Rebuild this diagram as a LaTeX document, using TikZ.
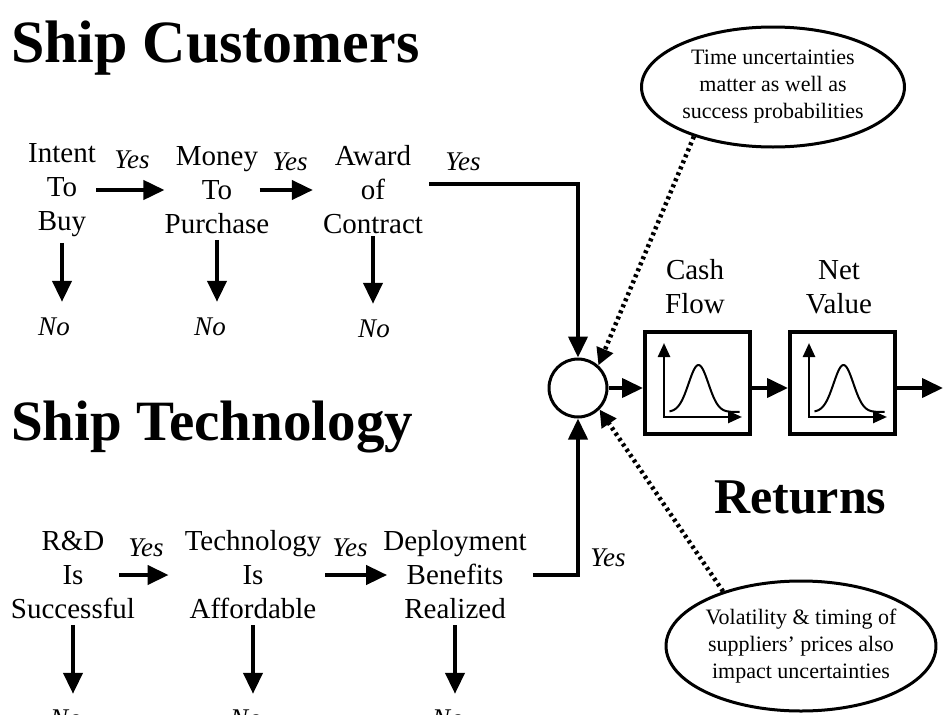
\documentclass[tikz,border=0pt]{standalone}
\usepackage{fontspec}
\setmainfont{Liberation Serif}
\usetikzlibrary{arrows.meta,shapes.geometric,calc}
\begin{document}
\begin{tikzpicture}[x=1pt,y=-1pt,
  titletext/.style={font=\fontsize{60}{62}\selectfont\bfseries, anchor=base west, inner sep=0},
  stepnode/.style={font=\fontsize{29}{34}\selectfont, align=center, inner sep=0},
  lab/.style={font=\fontsize{27}{30}\selectfont\itshape, inner sep=0},
  arr/.style={line width=4pt, -{Triangle[length=21pt,width=19pt]}},
  ln/.style={line width=4pt},
  dots/.style={line width=4.5pt, dash pattern=on 3pt off 3.5pt, -{Triangle[length=17pt,width=17pt]}},
  note/.style={ellipse, draw, line width=3pt, align=center, font=\fontsize{22}{27}\selectfont, inner sep=0},
  plotbox/.style={draw, line width=4pt, minimum width=105pt, minimum height=102pt, inner sep=0},
]
\useasboundingbox (0,0) rectangle (943,715);

% titles
\node[titletext] (t1) at (11,62) {Ship Customers};
\node[titletext, font=\fontsize{57}{60}\selectfont\bfseries] (t2) at (11,440) {Ship Technology};
\node[titletext, font=\fontsize{50}{52}\selectfont\bfseries] (t3) at (714,513) {Returns};

% top row
\node[stepnode] (intent) at (62,190) {Intent\\To\\Buy};
\node[stepnode] (money) at (217,190) {Money\\To\\Purchase};
\node[stepnode] (award) at (373,190) {Award\\of\\Contract};
\node[lab] (y1) at (132,160) {Yes};
\node[lab] (y2) at (290,162) {Yes};
\node[lab] (y3) at (463,162) {Yes};
\node[lab] (n1) at (54,327) {No};
\node[lab] (n2) at (210,327) {No};
\node[lab] (n3) at (374,329) {No};

% bottom row
\node[stepnode] (rnd) at (73,575) {R\&D\\Is\\Successful};
\node[stepnode] (tech) at (253,575) {Technology\\Is\\Affordable};
\node[stepnode] (deploy) at (455,575) {Deployment\\Benefits\\Realized};
\node[lab] (y4) at (146,548) {Yes};
\node[lab] (y5) at (350,548) {Yes};
\node[lab] (y6) at (608,558) {Yes};
\node[lab] (n4) at (66,719) {No};
\node[lab] (n5) at (246,719) {No};
\node[lab] (n6) at (448,719) {No};

% hub and boxes
\node[circle, draw, line width=3pt, minimum size=58pt, inner sep=0] (hub) at (578,388) {};
\node[plotbox] (b1) at (697.5,382.5) {};
\node[plotbox] (b2) at (842.5,382.5) {};
\node[stepnode] (cash) at (695,287) {Cash\\Flow};
\node[stepnode] (net) at (839,287) {Net\\Value};
\coordinate (out) at (943,388);

% notes
\node[note, minimum width=263pt, minimum height=120pt] (note1) at (773,87)
  {Time uncertainties\\matter as well as\\success probabilities};
\node[note, minimum width=268pt, minimum height=130pt] (note2) at (801,646)
  {Volatility \& timing of\\suppliers' prices also\\impact uncertainties};

% bell plots
\foreach \b in {b1,b2}{
  \begin{scope}[shift={(\b.center)}]
    \draw[line width=2.5pt, {Triangle[length=14pt,width=12pt]}-{Triangle[length=14pt,width=12pt]}]
      (-33.5,-39.5) -- (-33.5,34.5) -- (44.5,34.5);
    \draw[line width=2pt] plot[domain=-28:42, samples=70, smooth]
      (\x, {29.5 - 47*exp(-((\x-1)/14)^2)});
  \end{scope}
}

% top flow
\draw[arr] (intent.east) -- (intent.east -| money.west);
\draw[arr] ([xshift=-10pt]money.east) -- ([xshift=-10pt]money.east -| award.west);
\draw[arr] ([xshift=6pt]award.east) ++(0,-6) -| (hub.north);
\draw[arr, shorten <=6pt, shorten >=16pt] (intent.south) -- (intent.south |- n1.north);
\draw[arr, shorten <=6pt, shorten >=16pt] (money.south) -- (money.south |- n2.north);
\draw[arr, shorten <=2pt, shorten >=16pt] (award.south) -- (award.south |- n3.north);

% bottom flow
\draw[arr] ([xshift=-16pt]rnd.east) -- ([xshift=-16pt]rnd.east -| tech.west);
\draw[arr] ([xshift=4pt]tech.east) -- ([xshift=4pt]tech.east -| deploy.west);
\draw[ln, -{Triangle[length=21pt,width=19pt]}] ([xshift=6pt]deploy.east) -| (hub.south);
\draw[arr, shorten <=6pt, shorten >=16pt] (rnd.south) -- (rnd.south |- n4.north);
\draw[arr, shorten <=6pt, shorten >=16pt] (tech.south) -- (tech.south |- n5.north);
\draw[arr, shorten <=6pt, shorten >=16pt] (deploy.south) -- (deploy.south |- n6.north);

% right flow
\draw[arr] (hub.east) -- (hub.east -| b1.west);
\draw[arr] (b1.east |- hub.east) -- (b2.west |- hub.east);
\draw[arr] (b2.east |- hub.east) -- (out);

% dotted
\draw[dots] (note1.212) -- (hub.48);
\draw[dots] (note2.145) -- (hub.-45);
\end{tikzpicture}
\end{document}
